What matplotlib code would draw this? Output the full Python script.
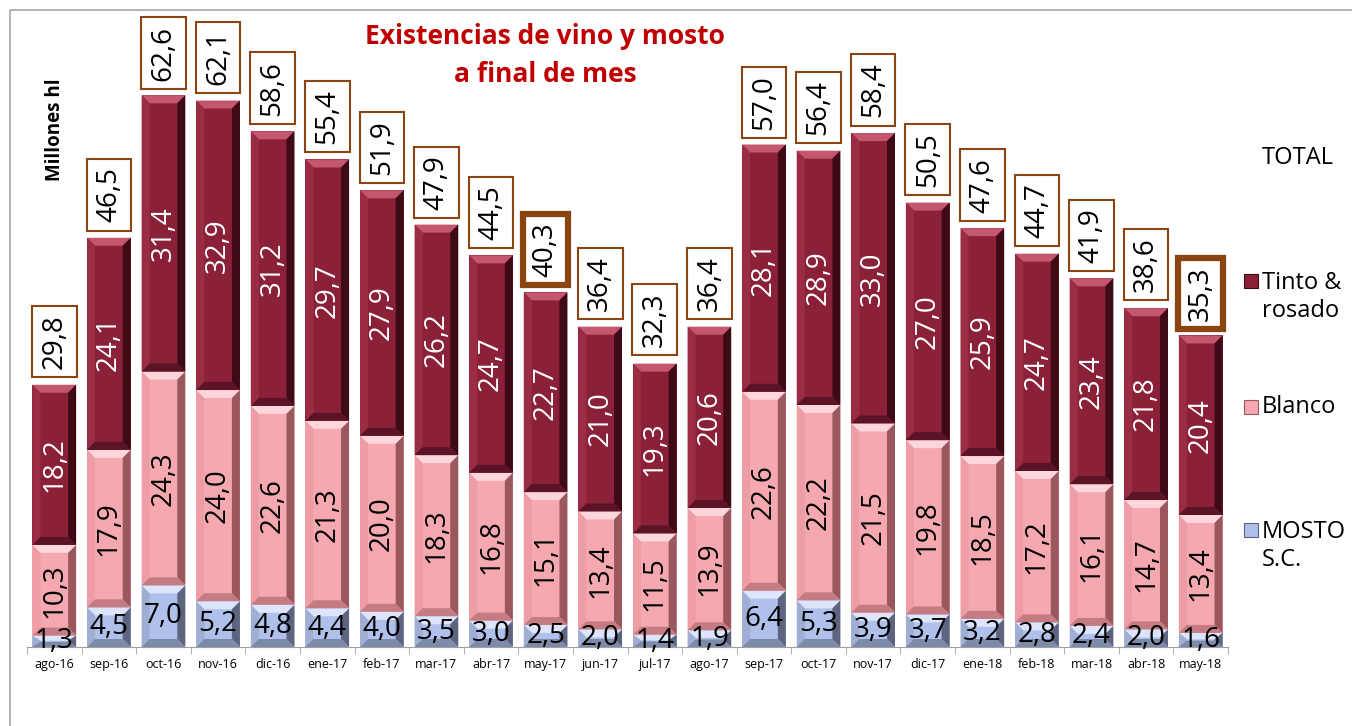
import matplotlib.pyplot as plt
from matplotlib.patches import Rectangle, Polygon

plt.rcParams['font.family'] = ['Open Sans', 'DejaVu Sans']

meses = ["ago-16", "sep-16", "oct-16", "nov-16", "dic-16", "ene-17", "feb-17", "mar-17",
         "abr-17", "may-17", "jun-17", "jul-17", "ago-17", "sep-17", "oct-17", "nov-17",
         "dic-17", "ene-18", "feb-18", "mar-18", "abr-18", "may-18"]
mosto = [1.3, 4.5, 7.0, 5.2, 4.8, 4.4, 4.0, 3.5, 3.0, 2.5, 2.0, 1.4, 1.9, 6.4, 5.3, 3.9,
         3.7, 3.2, 2.8, 2.4, 2.0, 1.6]
blanco = [10.3, 17.9, 24.3, 24.0, 22.6, 21.3, 20.0, 18.3, 16.8, 15.1, 13.4, 11.5, 13.9,
          22.6, 22.2, 21.5, 19.8, 18.5, 17.2, 16.1, 14.7, 13.4]
tinto = [18.2, 24.1, 31.4, 32.9, 31.2, 29.7, 27.9, 26.2, 24.7, 22.7, 21.0, 19.3, 20.6,
         28.1, 28.9, 33.0, 27.0, 25.9, 24.7, 23.4, 21.8, 20.4]
total = [29.8, 46.5, 62.6, 62.1, 58.6, 55.4, 51.9, 47.9, 44.5, 40.3, 36.4, 32.3, 36.4,
         57.0, 56.4, 58.4, 50.5, 47.6, 44.7, 41.9, 38.6, 35.3]
destacados = ["may-17", "may-18"]

# colores: base, arriba, izquierda, derecha, abajo
COL_TINTO = ("#8B2139", "#C4566E", "#9A2C44", "#3E0A16", "#5A1426")
COL_BLANCO = ("#F5A8B0", "#FCD6DA", "#EE9CA5", "#9A585E", "#C47B82")
COL_MOSTO = ("#AFC0EA", "#DCE5FB", "#A0AED4", "#5C6480", "#7E8AAA")

W, H = 1352, 726
fig = plt.figure(figsize=(W / 100, H / 100), dpi=100)
ax = fig.add_axes([27 / W, 79 / H, 1201 / W, 616 / H])
ax.set_xlim(-0.5, len(meses) - 0.5)
ax.set_ylim(0, 70)

x = list(range(len(meses)))
ancho = 0.8
bx = 8 / 54.6   # bisel en x (datos)
by = 8 / 8.8    # bisel en y (datos)


def bisel(bars, cols):
    for b in bars:
        x0, y0, w, h = b.get_x(), b.get_y(), b.get_width(), b.get_height()
        d = min(by, h / 2.2)
        x1, y1 = x0 + w, y0 + h
        caras = [
            ([(x0, y1), (x1, y1), (x1 - bx, y1 - d), (x0 + bx, y1 - d)], cols[1]),
            ([(x0, y0), (x0, y1), (x0 + bx, y1 - d), (x0 + bx, y0 + d)], cols[2]),
            ([(x1, y0), (x1, y1), (x1 - bx, y1 - d), (x1 - bx, y0 + d)], cols[3]),
            ([(x0, y0), (x1, y0), (x1 - bx, y0 + d), (x0 + bx, y0 + d)], cols[4]),
        ]
        for pts, c in caras:
            ax.add_patch(Polygon(pts, closed=True, facecolor=c, edgecolor="none", zorder=3))


b1 = ax.bar(x, mosto, ancho, color=COL_MOSTO[0], zorder=2)
base2 = mosto
b2 = ax.bar(x, blanco, ancho, bottom=base2, color=COL_BLANCO[0], zorder=2)
base3 = [m + b for m, b in zip(mosto, blanco)]
b3 = ax.bar(x, tinto, ancho, bottom=base3, color=COL_TINTO[0], zorder=2)
bisel(b1, COL_MOSTO)
bisel(b2, COL_BLANCO)
bisel(b3, COL_TINTO)

fmt = lambda v: f"{v:.1f}".replace(".", ",")
fs = 20
for i in x:
    ax.text(i, mosto[i] / 2, fmt(mosto[i]), ha="center", va="center", fontsize=fs,
            color="black", zorder=5, clip_on=False)
    ax.text(i, base2[i] + blanco[i] / 2, fmt(blanco[i]), ha="center", va="center",
            rotation=90, fontsize=fs, color="black", zorder=5)
    ax.text(i, base3[i] + tinto[i] / 2, fmt(tinto[i]), ha="center", va="center",
            rotation=90, fontsize=fs, color="white", zorder=5)
    grueso = meses[i] in destacados
    ax.annotate(fmt(total[i]), (i, total[i]), xytext=(0, 31), textcoords="offset points",
                ha="center", va="center", rotation=90, fontsize=fs, zorder=6,
                annotation_clip=False,
                bbox=dict(boxstyle="square,pad=0.3", fc="white", ec="#8B4513",
                          lw=4.5 if grueso else 1.5))

ax.set_xticks(x)
ax.set_xticklabels(meses, fontsize=9)
ax.set_xticks([i - 0.5 for i in range(len(meses) + 1)], minor=True)
ax.tick_params(axis="x", which="major", length=0, pad=8)
ax.tick_params(axis="x", which="minor", length=5, color="#A0A0A0")
ax.set_yticks([])
for s in ["left", "right", "top"]:
    ax.spines[s].set_visible(False)
ax.spines["bottom"].set_color("#A0A0A0")

# marco del grafico
fig.patches.append(Rectangle((10 / W, -0.1), 1.2, 0.1 + 716 / H, transform=fig.transFigure,
                             fill=False, ec="#A6A6A6", lw=1.2))

fig.text(545 / W, 1 - 37 / H, "Existencias de vino y mosto", ha="center", va="center",
         fontsize=19, fontweight="bold", color="#C00000")
fig.text(545 / W, 1 - 75 / H, "a final de mes", ha="center", va="center",
         fontsize=19, fontweight="bold", color="#C00000")
fig.text(55 / W, 1 - 130 / H, "Millones hl", ha="center", va="center", rotation=90,
         fontsize=13.5, fontweight="bold")

# leyenda
fig.text(1262 / W, 1 - 158 / H, "TOTAL", ha="left", va="center", fontsize=17)
ley = [("Tinto &\nrosado", COL_TINTO, 297), ("Blanco", COL_BLANCO, 407),
       ("MOSTO\nS.C.", COL_MOSTO, 546)]
for txt, cols, yc in ley:
    fig.text(1262 / W, 1 - yc / H, txt, ha="left", va="center", fontsize=17,
             linespacing=1.2)
    ylin = yc - 16 if "\n" in txt else yc
    fig.patches.append(Rectangle((1244 / W, 1 - (ylin + 7) / H), 14 / W, 14 / H,
                                 transform=fig.transFigure, fc=cols[0], ec=cols[3], lw=0.8))

fig.savefig("out.png", dpi=100)
